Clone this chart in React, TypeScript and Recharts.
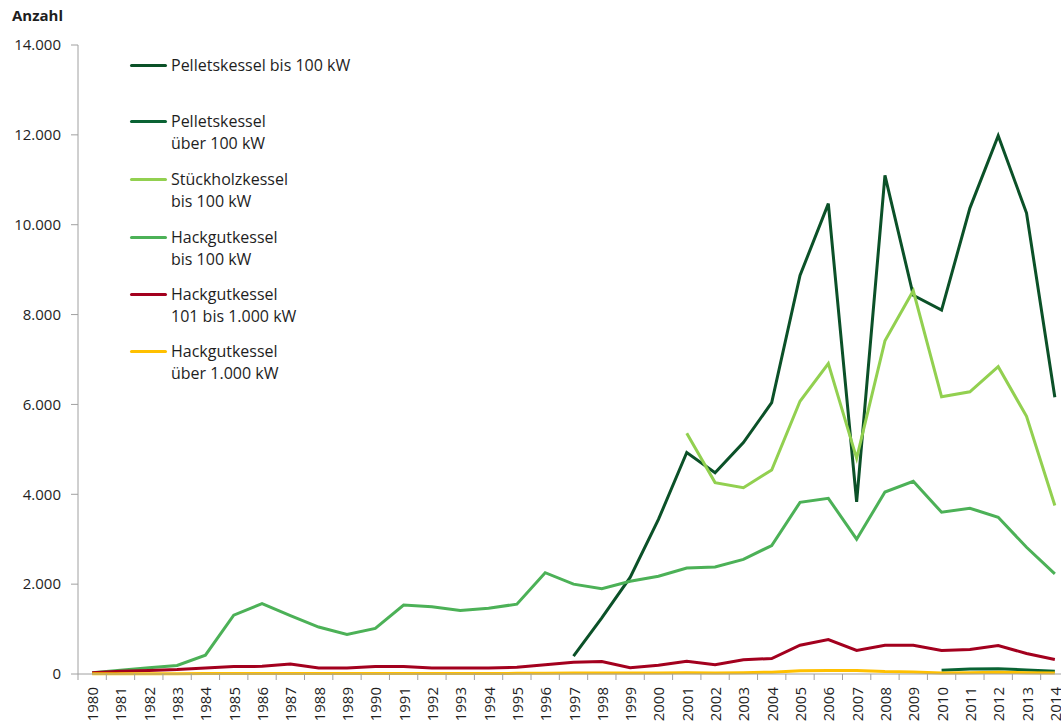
import React from 'react';
import { LineChart, Line, XAxis, YAxis, Legend } from 'recharts';

const years = [
  '1980', '1981', '1982', '1983', '1984', '1985', '1986', '1987', '1988', '1989',
  '1990', '1991', '1992', '1993', '1994', '1995', '1996', '1997', '1998', '1999',
  '2000', '2001', '2002', '2003', '2004', '2005', '2006', '2007', '2008', '2009',
  '2010', '2011', '2012', '2013', '2014',
];

const pelletsBis100 = [
  null, null, null, null, null, null, null, null, null, null,
  null, null, null, null, null, null, null, 400, 1250, 2150,
  3440, 4930, 4480, 5150, 6040, 8870, 10470, 3830, 11100, 8430,
  8100, 10370, 11980, 10260, 6160,
];

const pelletsUeber100 = [
  null, null, null, null, null, null, null, null, null, null,
  null, null, null, null, null, null, null, null, null, null,
  null, null, null, null, null, null, null, null, null, null,
  85, 110, 115, 90, 60,
];

const stueckholzBis100 = [
  null, null, null, null, null, null, null, null, null, null,
  null, null, null, null, null, null, null, null, null, null,
  null, 5360, 4260, 4145, 4540, 6070, 6910, 4800, 7415, 8530,
  6170, 6280, 6840, 5735, 3750,
];

const hackgutBis100 = [
  30, 85, 137, 190, 420, 1310, 1565, 1300, 1045, 880,
  1015, 1535, 1495, 1415, 1465, 1555, 2255, 2000, 1900, 2065,
  2175, 2360, 2380, 2550, 2860, 3820, 3910, 3000, 4050, 4290,
  3600, 3690, 3490, 2820, 2230,
];

const hackgut101bis1000 = [
  30, 60, 80, 100, 135, 165, 170, 220, 135, 135,
  165, 165, 135, 135, 135, 150, 205, 260, 278, 140,
  196, 285, 204, 315, 345, 640, 768, 523, 641, 641,
  523, 545, 634, 456, 323,
];

const hackgutUeber1000 = [
  5, 5, 5, 5, 10, 10, 10, 10, 10, 10,
  10, 10, 10, 10, 10, 15, 15, 20, 25, 25,
  25, 30, 25, 30, 40, 70, 80, 80, 55, 45,
  20, 30, 40, 30, 20,
];

const yTicks = [0, 2000, 4000, 6000, 8000, 10000, 12000, 14000];

const series = [
  { key: 'pelletsBis100', name: ['Pelletskessel bis 100 kW'], color: '#0b5128' },
  { key: 'pelletsUeber100', name: ['Pelletskessel', 'über 100 kW'], color: '#0a6334' },
  { key: 'stueckholzBis100', name: ['Stückholzkessel', 'bis 100 kW'], color: '#92d050' },
  { key: 'hackgutBis100', name: ['Hackgutkessel', 'bis 100 kW'], color: '#4cb157' },
  { key: 'hackgut101bis1000', name: ['Hackgutkessel', '101 bis 1.000 kW'], color: '#a3001e' },
  { key: 'hackgutUeber1000', name: ['Hackgutkessel', 'über 1.000 kW'], color: '#ffc000' },
];

const data = years.map((jahr, i) => ({
  jahr,
  pelletsBis100: pelletsBis100[i],
  pelletsUeber100: pelletsUeber100[i],
  stueckholzBis100: stueckholzBis100[i],
  hackgutBis100: hackgutBis100[i],
  hackgut101bis1000: hackgut101bis1000[i],
  hackgutUeber1000: hackgutUeber1000[i],
}));

const FONT = '"Open Sans", Lato, sans-serif';
const AXIS = '#a0a0a0';
const TEXT = '#1e1e1e';

const W = 1075;
const H = 726;
const M = { top: 45, right: 6, left: 0, bottom: 0 };
const Y_W = 78;
const X_H = 52;
// Excel-style category axis: each year sits in the middle of its own band
const band = (W - M.left - M.right - Y_W) / years.length;

const fmt = (v: number) => v.toString().replace(/\B(?=(\d{3})+(?!\d))/g, '.');

function XTick(props: any) {
  const { x, y, payload, index } = props;
  const left = x - band / 2;
  const right = x + band / 2;
  return (
    <g>
      <line x1={left} y1={y} x2={left} y2={y + 6} stroke={AXIS} />
      {index === years.length - 1 && <line x1={right} y1={y} x2={right} y2={y + 6} stroke={AXIS} />}
      <text
        x={x}
        y={y + 13}
        transform={`rotate(-90, ${x}, ${y + 13})`}
        textAnchor="end"
        dominantBaseline="central"
        fontSize={15}
        fontFamily={FONT}
        fill={TEXT}
      >
        {payload.value}
      </text>
    </g>
  );
}

const legendTops = [0, 56, 114, 172, 229, 286];

function LegendBox() {
  return (
    <div style={{ position: 'relative', fontFamily: FONT, fontSize: 16, color: TEXT }}>
      {series.map((s, i) => (
        <div key={s.key} style={{ position: 'absolute', left: 0, top: legendTops[i], whiteSpace: 'nowrap' }}>
          <span
            style={{
              position: 'absolute',
              left: 0,
              top: 10,
              width: 37,
              height: 3,
              borderRadius: 2,
              background: s.color,
            }}
          />
          <div style={{ marginLeft: 41, lineHeight: '22px' }}>
            {s.name.map((t) => (
              <div key={t}>{t}</div>
            ))}
          </div>
        </div>
      ))}
    </div>
  );
}

export default function App() {
  return (
    <div style={{ position: 'absolute', left: 0, top: 0, width: 1061, height: 726, overflow: 'hidden', background: '#fff' }}>
      <div
        style={{
          position: 'absolute',
          left: 12,
          top: 5,
          fontFamily: FONT,
          fontWeight: 700,
          fontSize: 15,
          color: TEXT,
        }}
      >
        Anzahl
      </div>
      <LineChart width={W} height={H} data={data} margin={M}>
        <XAxis
          dataKey="jahr"
          height={X_H}
          interval={0}
          padding={{ left: band / 2, right: band / 2 }}
          axisLine={{ stroke: AXIS }}
          tickLine={false}
          tickSize={0}
          tickMargin={0}
          tick={<XTick />}
        />
        <YAxis
          width={Y_W}
          domain={[0, 14000]}
          ticks={yTicks}
          interval={0}
          tickFormatter={fmt}
          axisLine={{ stroke: AXIS }}
          tickLine={{ stroke: AXIS }}
          tickSize={7}
          tickMargin={10}
          tick={{ fill: TEXT, fontSize: 15, fontFamily: FONT }}
        />
        <Legend
          content={<LegendBox />}
          wrapperStyle={{ position: 'absolute', left: 130, top: 54, width: 300, height: 0 }}
        />
        {series.map((s) => (
          <Line
            key={s.key}
            type="linear"
            dataKey={s.key}
            stroke={s.color}
            strokeWidth={3}
            dot={false}
            activeDot={false}
            isAnimationActive={false}
            connectNulls={false}
          />
        ))}
      </LineChart>
    </div>
  );
}
